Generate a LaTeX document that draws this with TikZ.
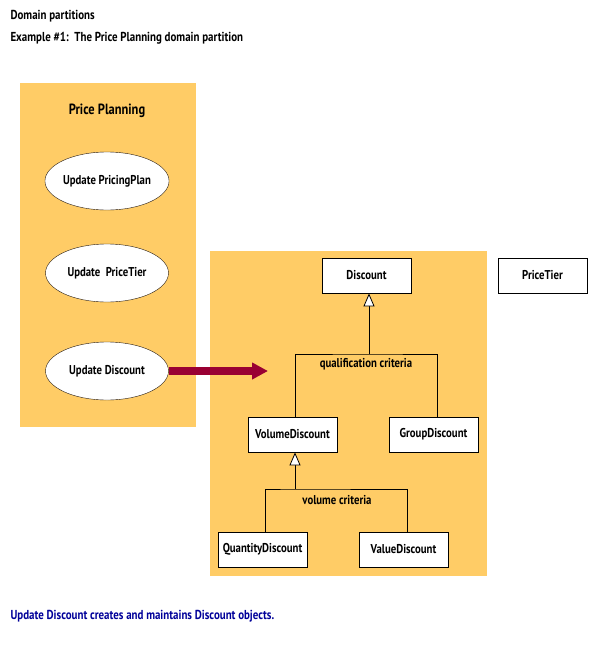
\documentclass[tikz,border=0pt]{standalone}
\usepackage{fontspec}
\setmainfont{PT Sans}[FakeStretch=0.84]
\usepackage{xcolor}
\usepackage{tikz}
\usetikzlibrary{positioning,shapes.geometric,arrows.meta,calc}
\definecolor{panelfill}{HTML}{FFCC66}
\definecolor{flowred}{HTML}{990033}
\definecolor{notecolor}{HTML}{000099}

\begin{document}
\begin{tikzpicture}[
    x=1pt, y=-1pt,
    font=\bfseries\fontsize{12.8}{15}\selectfont,
    panel/.style={
        fill=panelfill,
        draw=none
    },
    usecase/.style={
        ellipse,
        draw=black!80!brown,
        thin,
        fill=white,
        minimum width=123pt,
        minimum height=58pt,
        inner sep=0pt
    },
    cls/.style={
        draw=black,
        thick,
        fill=white,
        minimum width=89pt,
        minimum height=35pt,
        inner sep=0pt
    },
    gen/.style={-{Triangle[open,width=11pt,length=13pt,fill=white]}, thick},
    link/.style={thick},
    arr/.style={-{Triangle[width=16pt,length=16pt]}, line width=7.5pt, draw=flowred}
]
\useasboundingbox (0,0) rectangle (610,670);

% header
\node[anchor=west, font=\bfseries\fontsize{13}{15}\selectfont] (title) at (7,16) {Domain partitions};
\node[anchor=west, font=\bfseries\fontsize{13}{15}\selectfont] (subtitle) at (7,38) {Example \#1:\ \ The Price Planning domain partition};

% panels
\fill[panel] (20,83) rectangle (196,427);
\fill[panel] (210,251) rectangle (487,576);

\node[font=\bfseries\fontsize{14.8}{17}\selectfont] (pp) at (107,111) {Price Planning};

\node[usecase] (plan) at (107,181) {Update PricingPlan};
\node[usecase] (tier) at (107,273) {Update\ \ PriceTier};
\node[usecase] (disc) at (107,371) {Update Discount};

\node[cls] (discount) at (366.5,275.5) {Discount};
\node[cls] (pricetier) at (542.5,275.5) {PriceTier};
\node[cls] (vol) at (292.5,434.5) {VolumeDiscount};
\node[cls] (grp) at (433.5,434.5) {GroupDiscount};
\node[cls] (qty) at (262.5,549.5) {QuantityDiscount};
\node[cls] (val) at (403.5,549.5) {ValueDiscount};

% generalisation sets
\coordinate (qc) at (369,354);
\coordinate (vc) at (295,489);
\draw[link] (vol.north -| 295,0) |- (qc) -| (grp.north -| 437,0);
\draw[gen] (qc) -- (qc |- discount.south);
\node (qclabel) at (366,364) {qualification criteria};

\draw[link] (qty.north -| 265,0) |- (vc) -| (val.north -| 407,0);
\draw[gen] (vc) -- (vc |- vol.south);
\node (vclabel) at (337,500) {volume criteria};

% use case -> classes
\coordinate (tip) at (268,371);
\draw[arr] (disc.east) -- (tip);

\node[anchor=west, text=notecolor, font=\bfseries\fontsize{13}{15}\selectfont] (note) at (7,616) {Update Discount creates and maintains Discount objects.};
\end{tikzpicture}
\end{document}
